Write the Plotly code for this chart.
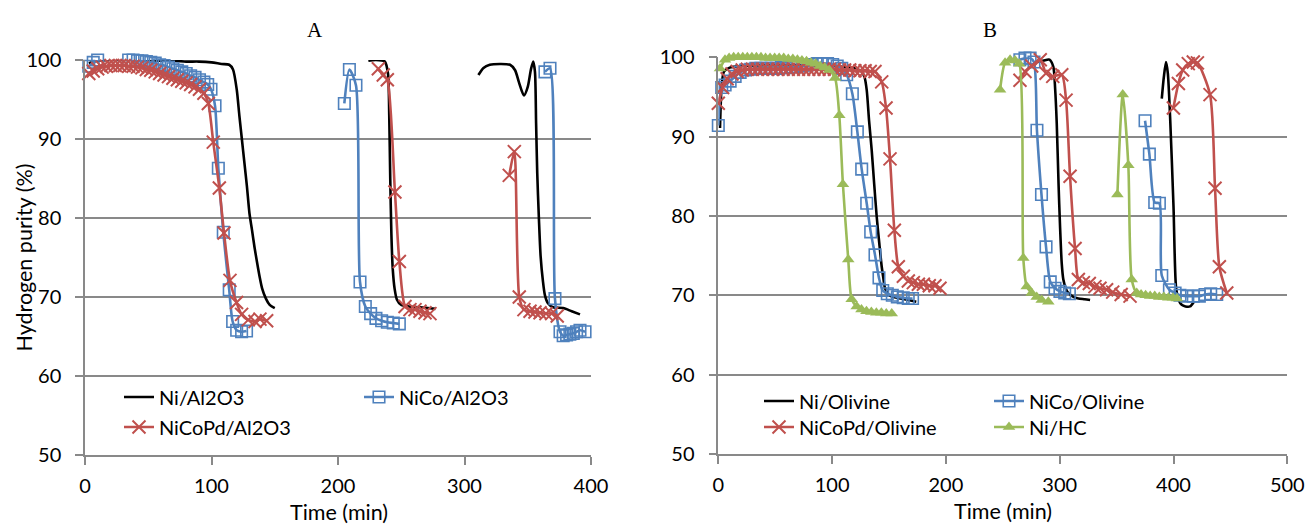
import plotly.graph_objects as go

# ---------------- Panel A: Al2O3-supported catalysts ----------------
a_ni_t = [3, 10, 20, 30, 40, 50, 60, 70, 80, 90, 100, 108, 114, 117, 120, 122, 124, 126, 128, 130, 132, 134, 136, 138, 140, 143, 146, 150,
          None,
          224, 230, 237, 239.5, 240.5, 241.3, 242.2, 243.3, 244.8, 246.5, 250, 256, 265, 277,
          None,
          311, 315, 320, 328, 336, 340, 343, 347, 350, 352.5, 354.3, 355.7, 356.6, 357.5, 358.8, 360.2, 362, 363.6, 366, 370, 378, 384.7, 391.3]
a_ni_v = [99.6, 99.9, 100.0, 100.0, 100.0, 100.0, 99.9, 99.9, 99.8, 99.8, 99.7, 99.5, 99.4, 98.8, 96.2, 93.0, 90.0, 87.0, 84.0, 80.6, 78.5, 76.3, 74.4, 72.6, 71.1, 69.8, 69.0, 68.6,
          None,
          99.9, 100.0, 99.8, 98.3, 93.0, 85.0, 78.0, 73.5, 71.0, 69.7, 69.0, 68.8, 68.7, 68.5,
          None,
          98.1, 99.0, 99.4, 99.5, 99.4, 98.7, 97.2, 95.5, 96.6, 98.8, 99.8, 98.5, 92.0, 85.7, 80.0, 75.1, 72.0, 70.2, 69.2, 68.7, 68.6, 68.2, 67.8]

a_nico_t = [3, 6.5, 10, 13.5, 17, 20.5, 24, 27.5, 31, 34.5, 38, 41.5, 45, 48.5, 52, 55.5, 59, 62.5, 66, 69.5, 73, 76.5, 80, 83.5, 87, 90.5, 94, 97,
            99.6, 102.8, 105.4, 109.3, 114, 116.7, 119.9, 123.8, 127.7,
            None,
            205, 209, 214.2, 217.4, 221.6, 225.8, 230, 234.5, 239, 243.7, 248.5,
            None,
            363.6, 367.6, 371.5, 375.5, 378, 380.7, 383.3, 386, 388.6, 391.3, 395.3]
a_nico_v = [99.2, 99.7, 100.0, 100.1, 100.1, 100.1, 100.1, 100.1, 100.1, 100.0, 100.0, 99.9, 99.9, 99.8, 99.7, 99.6, 99.4, 99.3, 99.1, 98.9, 98.7, 98.5, 98.3, 98.0, 97.8, 97.5, 97.2, 96.9,
            96.3, 94.2, 86.3, 78.2, 70.9, 66.9, 65.8, 65.6, 65.7,
            None,
            94.5, 98.8, 96.8, 71.9, 68.8, 67.9, 67.3, 67.0, 66.8, 66.7, 66.6,
            None,
            98.5, 98.95, 69.8, 65.6, 65.1, 65.2, 65.3, 65.4, 65.6, 65.8, 65.6]

a_nicopd_t = [3, 6.5, 10, 13.5, 17, 20.5, 24, 27.5, 31, 34.5, 38, 41.5, 45, 48.5, 52, 55.5, 59, 62.5, 66, 69.5, 73, 76.5, 80, 83.5, 87, 90.5, 94,
              97.5, 101.4, 106.2, 109.9, 114.6, 119.8, 123.8, 129, 134.4, 138.3, 143.6,
              None,
              231.9, 235.8, 239, 245, 248.5, 253, 256.9, 260.9, 264.8, 268.8, 272.7,
              None,
              335.4, 339.4, 343.3, 347, 351.8, 355.7, 359.7, 364.4, 368.9, 373.3]
a_nicopd_v = [98.3, 98.6, 98.9, 99.1, 99.2, 99.3, 99.3, 99.3, 99.3, 99.2, 99.2, 99.1, 99.0, 98.8, 98.7, 98.5, 98.3, 98.1, 97.9, 97.7, 97.5, 97.3, 97.1, 96.9, 96.6, 96.3, 95.8,
              94.5, 89.6, 83.8, 78.1, 72.1, 69.3, 67.8, 67.1, 66.9, 67.2, 67.0,
              None,
              98.9, 98.1, 97.5, 83.3, 74.5, 68.8, 68.4, 68.4, 68.2, 68.0, 67.9,
              None,
              85.4, 88.4, 70.0, 68.4, 68.2, 68.1, 68.0, 67.9, 67.9, 67.6]

# ---------------- Panel B: olivine and HC supported catalysts ----------------
b_ni_t = [1.5, 3, 5, 10, 20, 40, 60, 80, 100, 115, 122, 126, 128.5, 130.4, 132.5, 134.8, 137, 139.2, 141.5, 143.6, 145, 146.5, 150, 154, 160, 167, 174,
          None,
          280.4, 286, 291, 294.4, 296, 297.4, 299, 300.3, 301.8, 303.2, 305.5, 307.6, 312, 316.4, 322, 326.7,
          None,
          389.7, 391.5, 393.4, 395, 397, 400, 402.2, 404.5, 407.2, 410.5, 414.5, 418]
b_ni_v = [91.1, 96.5, 98.2, 98.7, 98.9, 99.0, 99.0, 99.0, 98.9, 98.7, 98.5, 98.2, 97.5, 95.9, 92.0, 88.3, 84.0, 79.9, 76.5, 73.6, 72.2, 70.9, 70.0, 69.8, 69.6, 69.4, 69.2,
          None,
          99.4, 99.6, 99.7, 98.8, 96.0, 91.7, 84.0, 78.7, 74.0, 72.0, 70.8, 70.3, 69.8, 69.6, 69.5, 69.4,
          None,
          94.8, 97.5, 99.4, 98.0, 92.5, 81.2, 71.1, 69.4, 68.8, 68.6, 68.6, 69.2]

b_nico_t = [0, 3, 6, 10.4, 14.8, 19.2, 24, 28.5, 33, 37.5, 42, 46.5, 51, 55.5, 60, 64.5, 69, 73.5, 78, 82.5, 87, 91.5, 96, 100.5, 104.5, 108.5,
            112.8, 117.8, 122.2, 126, 130.4, 133.9, 137.7, 141.2, 144.5, 148.5, 152.9, 157.3, 162.5, 166.9, 170.7,
            None,
            265, 269.5, 274, 277.4, 280, 284, 288, 291.7, 295.9, 300.2, 304.4, 308.5,
            None,
            375, 378.8, 383.5, 387.6, 389.7, 396.4, 401.4, 405.7, 411.6, 417.4, 422.7, 427.7, 432.7, 438]
b_nico_v = [91.4, 96.2, 96.5, 97.0, 97.6, 98.1, 98.4, 98.5, 98.6, 98.6, 98.6, 98.6, 98.6, 98.7, 98.7, 98.8, 98.8, 98.9, 99.0, 99.1, 99.2, 99.2, 99.2, 99.1, 98.9, 98.6,
            97.8, 95.4, 90.6, 85.9, 81.6, 78.0, 75.1, 72.2, 70.6, 70.2, 70.0, 69.8, 69.7, 69.6, 69.6,
            None,
            99.7, 99.9, 99.9, 99.4, 90.8, 82.7, 76.1, 71.7, 70.9, 70.5, 70.3, 70.2,
            None,
            92.0, 87.8, 81.7, 81.6, 72.5, 70.7, 70.3, 70.0, 69.9, 69.9, 69.9, 70.1, 70.2, 70.1]

b_nicopd_t = [0, 3.8, 7.8, 12, 16.5, 21, 25.5, 30, 34.5, 39, 43.5, 48, 52.5, 57, 61.5, 66, 70.5, 75, 79.5, 84, 88.5, 93, 97.5, 102, 106.5, 111, 115.5,
              120, 124.5, 129, 133.5, 137.7, 143.6, 147.4, 150.9, 154.7, 158.2, 162.6, 167, 171.4, 175.8, 180.2, 185.4, 190.4, 194.8,
              None,
              265.1, 269.5, 275.4, 282.9, 288, 293.9, 301.8, 305.6, 309.1, 313.5, 316.4, 320.8, 326, 331, 335.4, 341.2, 346.6, 354, 361.8,
              None,
              399.9, 404.3, 408.1, 413, 417.4, 421, 432.1, 436.5, 440.3, 446.8]
b_nicopd_v = [94.2, 96.2, 97.3, 97.9, 98.2, 98.4, 98.5, 98.5, 98.5, 98.5, 98.5, 98.5, 98.5, 98.5, 98.5, 98.5, 98.5, 98.5, 98.5, 98.5, 98.5, 98.5, 98.5, 98.5, 98.4, 98.4, 98.4,
              98.3, 98.3, 98.3, 98.2, 98.2, 96.9, 93.6, 87.2, 78.2, 73.6, 72.4, 71.8, 71.6, 71.4, 71.4, 71.2, 71.2, 70.9,
              None,
              97.1, 98.2, 98.9, 99.7, 98.0, 97.6, 97.8, 94.6, 85.0, 75.9, 72.0, 71.6, 71.5, 71.1, 70.9, 70.7, 70.4, 70.1, 69.9,
              None,
              93.6, 96.7, 98.4, 99.2, 99.4, 99.3, 95.3, 83.5, 73.6, 70.3]

b_hc_t = [1.5, 5.9, 9.5, 13.5, 17.5, 21.5, 25.5, 29.5, 33.5, 37.5, 41.5, 45.5, 49.5, 53.5, 57.5, 61.5, 65.5, 69.5, 73.5, 77.5, 81.5, 85.5, 89.5, 93.5, 97.5,
          102.6, 106.3, 109.5, 114.2, 117.2, 121.6, 125.8, 130.2, 134.5, 138.9, 143.3, 147.6, 152.4,
          None,
          247.6, 252, 256.4, 260.8, 264.5, 268, 271, 275.4, 279.8, 284.2, 290,
          None,
          350.7, 355.4, 360.3, 363.3, 367.7, 371.5, 375.5, 379.5, 383.5, 387.5, 391.5, 395.5, 399.5, 403]
b_hc_v = [98.6, 99.7, 99.9, 100.0, 100.0, 100.0, 100.0, 100.0, 100.0, 100.0, 99.9, 99.9, 99.9, 99.9, 99.9, 99.8, 99.8, 99.7, 99.6, 99.5, 99.3, 99.2, 98.9, 98.7, 98.4,
          97.4, 92.7, 84.0, 74.5, 69.5, 68.6, 68.2, 68.0, 67.9, 67.8, 67.8, 67.7, 67.7,
          None,
          95.9, 99.3, 99.7, 99.6, 99.2, 74.7, 71.1, 70.3, 69.8, 69.4, 69.2,
          None,
          82.7, 95.3, 86.4, 72.0, 70.3, 70.1, 70.0, 69.9, 69.9, 69.8, 69.8, 69.7, 69.7, 69.6]

x_ticks_a = [0, 100, 200, 300, 400]
x_ticks_b = [0, 100, 200, 300, 400, 500]
y_ticks = [50, 60, 70, 80, 90, 100]

BLACK = "#000000"
BLUE = "#4F81BD"
RED = "#C0504D"
GREEN = "#9BBB59"
GRID = "#898989"
FONT = "Lato"

W, H = 1309, 525

fig = go.Figure()


def series(x, y, name, color, xa, ya, legend, marker=None, width=2.6):
    kw = dict(x=x, y=y, name=name, xaxis=xa, yaxis=ya, legend=legend,
              line=dict(color=color, width=width, shape="spline", smoothing=0.7),
              connectgaps=False, cliponaxis=False)
    if marker is None:
        kw["mode"] = "lines"
    else:
        kw["mode"] = "lines+markers"
        kw["marker"] = marker
    fig.add_trace(go.Scatter(**kw))


sq = dict(symbol="square-open", size=11.5, color=BLUE, line=dict(width=1.6, color=BLUE))
xm = dict(symbol="x-thin-open", size=13, color=RED, line=dict(width=2, color=RED))
tri = dict(symbol="triangle-up", size=11, color=GREEN, line=dict(width=0))

# panel A
series(a_ni_t, a_ni_v, "Ni/Al2O3", BLACK, "x", "y", "legend")
series(a_nico_t, a_nico_v, "NiCo/Al2O3", BLUE, "x", "y", "legend", sq)
series(a_nicopd_t, a_nicopd_v, "NiCoPd/Al2O3", RED, "x", "y", "legend2", xm)
# panel B
series(b_ni_t, b_ni_v, "Ni/Olivine", BLACK, "x2", "y2", "legend3")
series(b_nico_t, b_nico_v, "NiCo/Olivine", BLUE, "x2", "y2", "legend3", sq)
series(b_nicopd_t, b_nicopd_v, "NiCoPd/Olivine", RED, "x2", "y2", "legend4", xm)
series(b_hc_t, b_hc_v, "Ni/HC", GREEN, "x2", "y2", "legend4", tri)


def px_x(p):
    return p / W


def px_y(p):
    return 1 - p / H


tickfont = dict(family=FONT, size=20, color="#000000")

xcommon = dict(showgrid=False, zeroline=False, showline=True, linecolor=GRID, linewidth=1.5,
               ticks="outside", ticklen=8, tickwidth=1.5, tickcolor=GRID, tickfont=tickfont,
               ticklabelstandoff=4)
ycommon = dict(range=[50, 100], tickvals=y_ticks, showgrid=True, gridcolor=GRID, gridwidth=1.5,
               zeroline=False, showline=True, linecolor=GRID, linewidth=1.5,
               ticks="outside", ticklen=8, tickwidth=1.5, tickcolor=GRID, tickfont=tickfont,
               ticklabelstandoff=10)

leg = dict(orientation="h", xanchor="left", yanchor="middle", bgcolor="rgba(0,0,0,0)",
           font=dict(family=FONT, size=20, color="#000000"), entrywidthmode="pixels",
           xref="paper", yref="paper", tracegroupgap=0)

title_font = dict(family="Liberation Serif", size=21, color="#000000")
axis_title_font = dict(family=FONT, size=21.5, color="#000000")

fig.update_layout(
    width=W, height=H,
    margin=dict(l=0, r=0, t=0, b=0, autoexpand=False),
    paper_bgcolor="white", plot_bgcolor="white",
    font=dict(family=FONT, color="#000000"),
    xaxis=dict(domain=[px_x(85), px_x(591)], range=[0, 400], tickvals=x_ticks_a, anchor="y", **xcommon),
    yaxis=dict(domain=[px_y(455), px_y(60)], anchor="x", **ycommon),
    xaxis2=dict(domain=[px_x(718.3), px_x(1287.3)], range=[0, 500], tickvals=x_ticks_b, anchor="y2", **xcommon),
    yaxis2=dict(domain=[px_y(454), px_y(57.3)], anchor="x2", **ycommon),
    legend=dict(x=px_x(119), y=px_y(397), entrywidth=195, **leg),
    legend2=dict(x=px_x(119), y=px_y(427), entrywidth=195, **leg),
    legend3=dict(x=px_x(759), y=px_y(401), entrywidth=185, **leg),
    legend4=dict(x=px_x(759), y=px_y(427), entrywidth=185, **leg),
    showlegend=True,
    annotations=[
        dict(text="A", x=px_x(314.5), y=px_y(29.5), xref="paper", yref="paper", showarrow=False,
             xanchor="center", yanchor="middle", font=title_font),
        dict(text="B", x=px_x(990), y=px_y(29.5), xref="paper", yref="paper", showarrow=False,
             xanchor="center", yanchor="middle", font=title_font),
        dict(text="Hydrogen purity (%)", x=px_x(23), y=px_y(257.5), xref="paper", yref="paper",
             showarrow=False, textangle=-90, xanchor="center", yanchor="middle", font=axis_title_font),
        dict(text="Time (min)", x=px_x(338.6), y=px_y(512), xref="paper", yref="paper", showarrow=False,
             xanchor="center", yanchor="middle", font=axis_title_font),
        dict(text="Time (min)", x=px_x(1002.8), y=px_y(511), xref="paper", yref="paper", showarrow=False,
             xanchor="center", yanchor="middle", font=axis_title_font),
    ],
)

fig.write_html("out.html")
